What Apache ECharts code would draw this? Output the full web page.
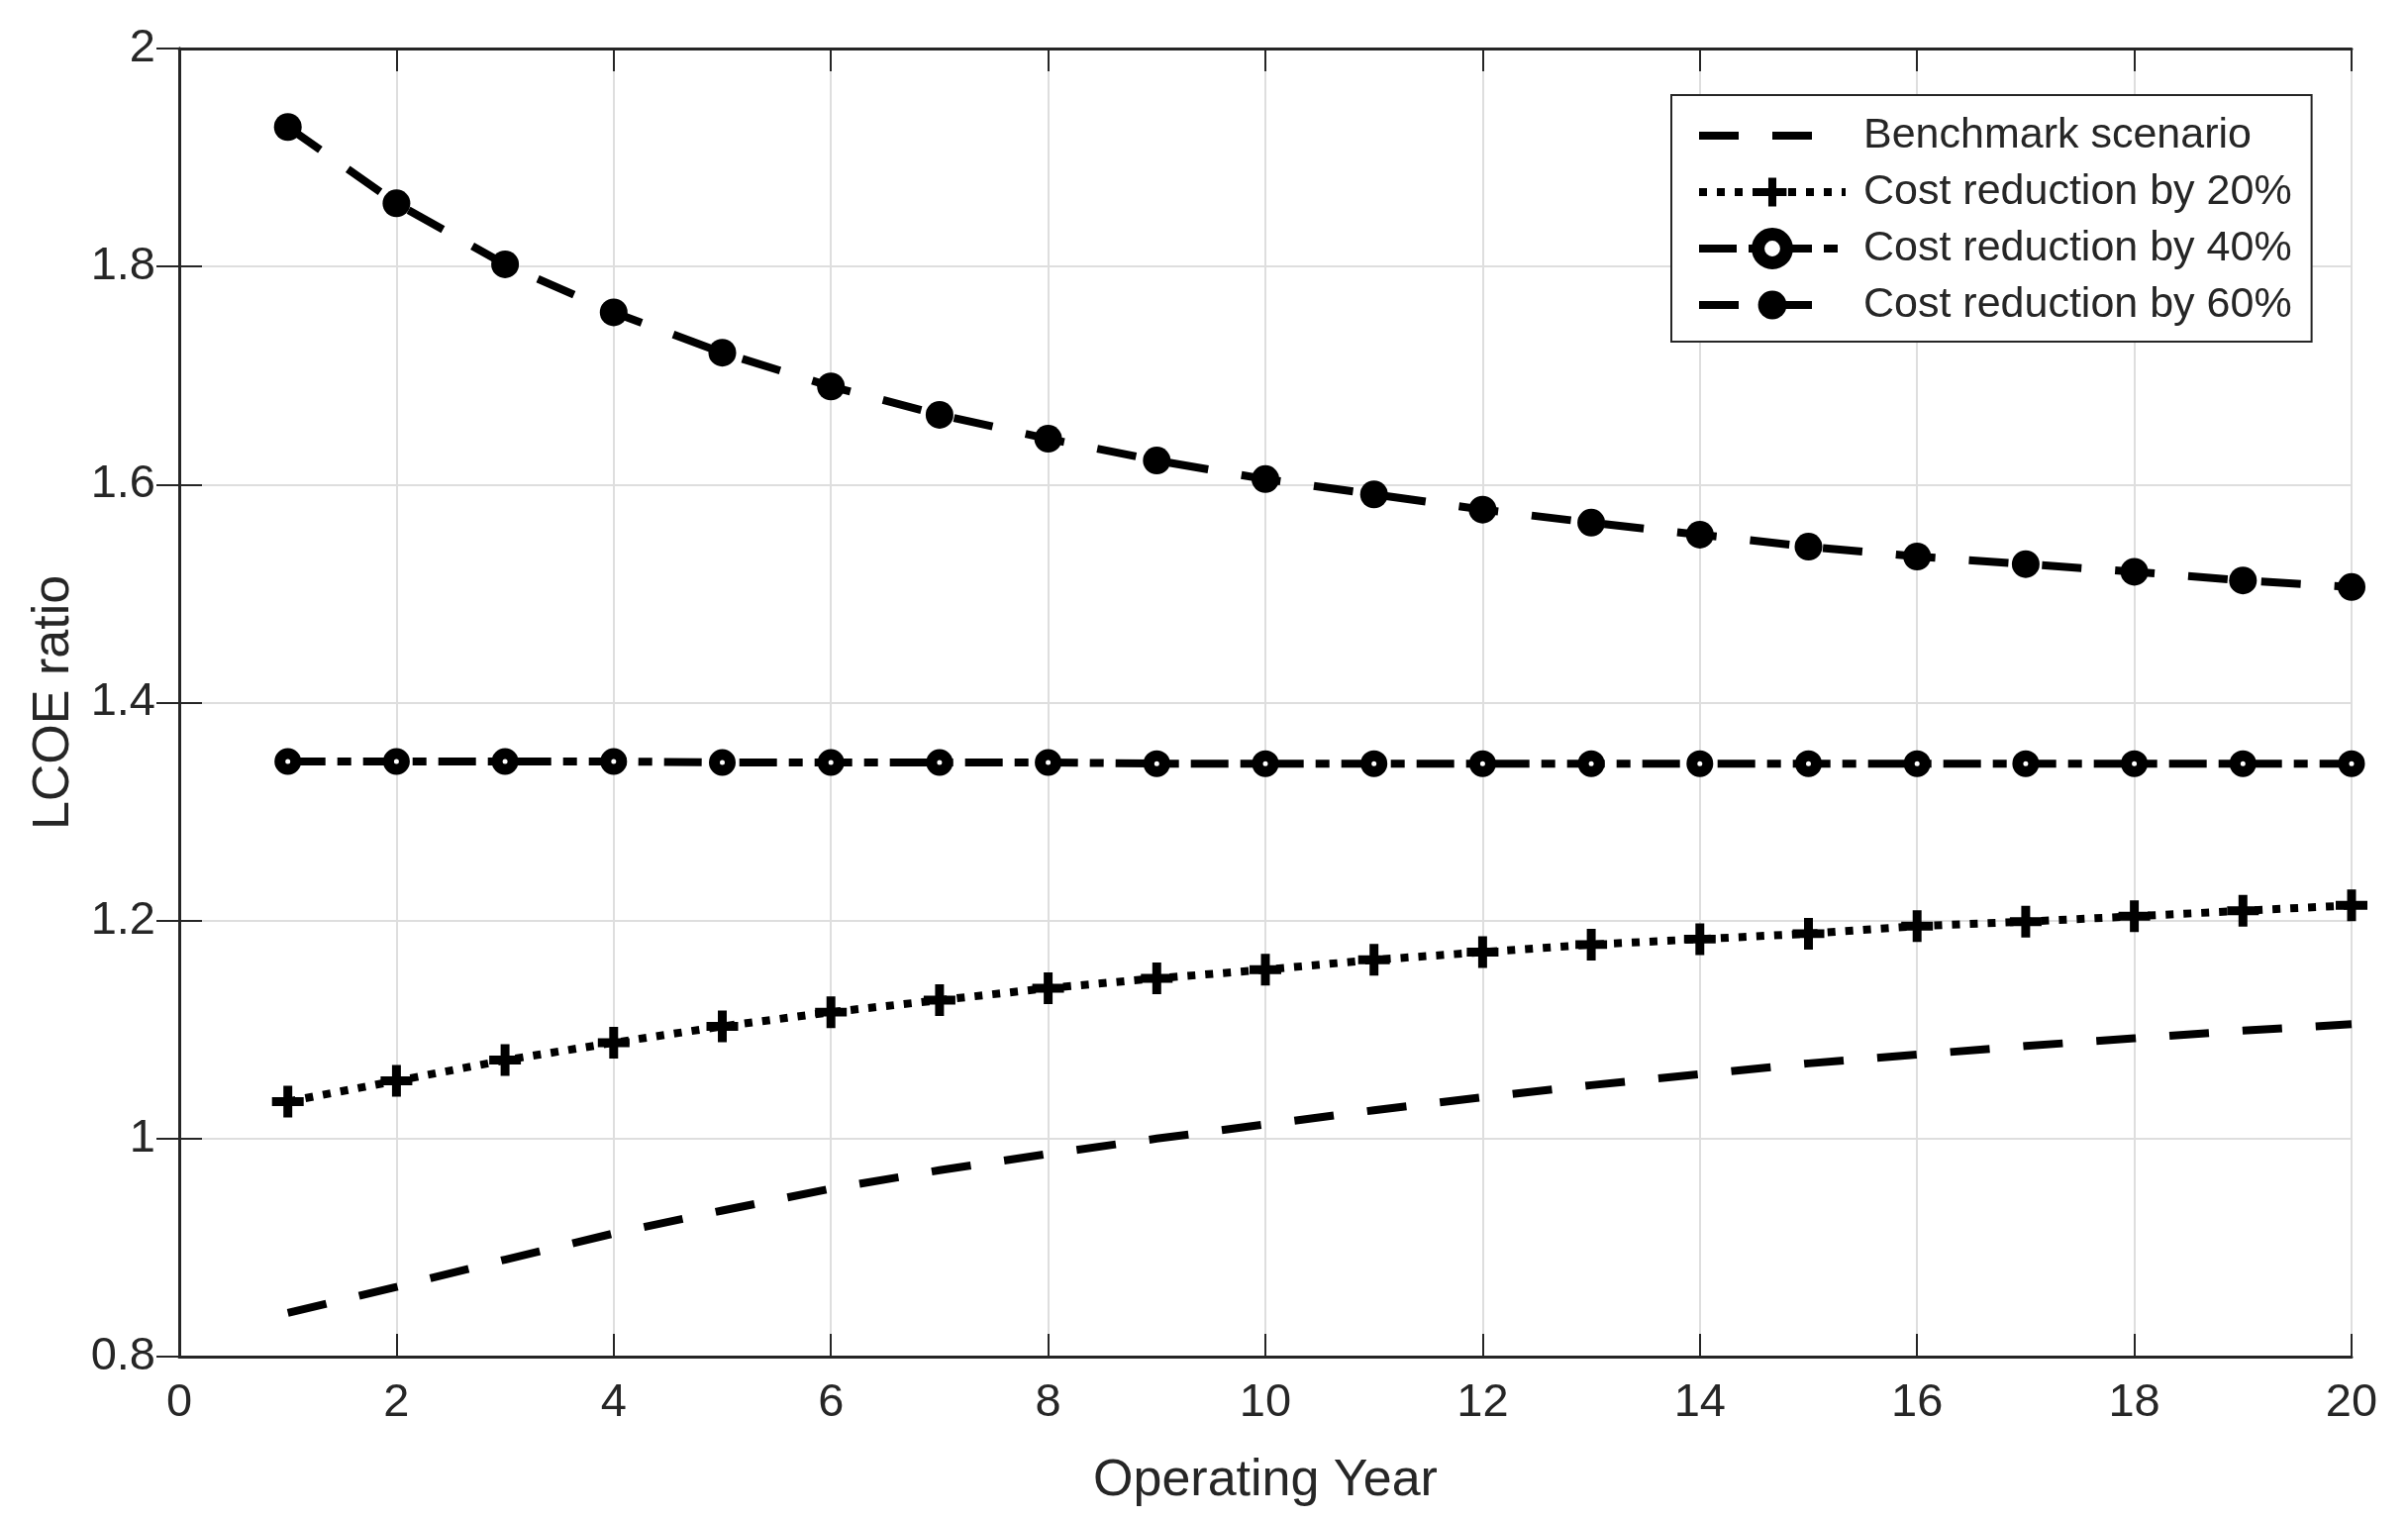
<!DOCTYPE html>
<html>
<head>
<meta charset="utf-8">
<script src="https://cdn.jsdelivr.net/npm/echarts@6/dist/echarts.min.js"></script>
<style>
html,body{margin:0;padding:0;background:#fff;}
#chart{width:2432px;height:1535px;}
</style>
</head>
<body>
<div id="chart"></div>
<script>
const years = [1,2,3,4,5,6,7,8,9,10,11,12,13,14,15,16,17,18,19,20];
const benchmark = [0.840,0.864,0.889,0.913,0.934,0.954,0.971,0.986,1.000,1.013,1.026,1.038,1.049,1.059,1.069,1.077,1.085,1.092,1.099,1.105];
const cut20 = [1.034,1.053,1.072,1.088,1.103,1.116,1.127,1.138,1.147,1.155,1.164,1.171,1.178,1.183,1.188,1.195,1.199,1.204,1.209,1.214];
const cut40 = [1.346,1.346,1.346,1.346,1.345,1.345,1.345,1.345,1.344,1.344,1.344,1.344,1.344,1.344,1.344,1.344,1.344,1.344,1.344,1.344];
const cut60 = [1.928,1.858,1.802,1.758,1.721,1.690,1.664,1.642,1.622,1.605,1.591,1.577,1.565,1.554,1.543,1.534,1.527,1.520,1.512,1.506];
const seriesNames = ['Benchmark scenario','Cost reduction by 20%','Cost reduction by 40%','Cost reduction by 60%'];
const xTitle = 'Operating Year';
const yTitle = 'LCOE ratio';

const pairs = arr => years.map((y, i) => [y, arr[i]]);
const FONT = 'Liberation Sans, Arial, Helvetica, sans-serif';
const TXT = '#262626';
const plusPath = 'path://M3.6,0 H6.4 V3.6 H10 V6.4 H6.4 V10 H3.6 V6.4 H0 V3.6 H3.6 Z';

const chart = echarts.init(document.getElementById('chart'), null, {renderer: 'canvas'});

const frameAxis = {
  axisLine: {show: true, lineStyle: {color: TXT, width: 3}},
  axisTick: {show: true, inside: true, length: 23, lineStyle: {color: TXT, width: 2}},
};

chart.setOption({
  animation: false,
  backgroundColor: '#ffffff',
  grid: {left: 181, right: 57, top: 49, bottom: 165, containLabel: false},
  xAxis: [
    Object.assign({
      type: 'value', min: 0, max: 20, interval: 2, position: 'bottom',
      name: xTitle, nameLocation: 'middle', nameGap: 100,
      nameTextStyle: {fontFamily: FONT, fontSize: 52, color: TXT},
      axisLabel: {fontFamily: FONT, fontSize: 47, color: TXT, margin: 24},
      splitLine: {show: true, lineStyle: {color: '#dedede', width: 2}}
    }, frameAxis),
    Object.assign({
      type: 'value', min: 0, max: 20, interval: 2, position: 'top',
      axisLabel: {show: false}, splitLine: {show: false}
    }, frameAxis)
  ],
  yAxis: [
    Object.assign({
      type: 'value', min: 0.8, max: 2, interval: 0.2, position: 'left',
      name: yTitle, nameLocation: 'middle', nameGap: 97, nameRotate: 90,
      nameTextStyle: {fontFamily: FONT, fontSize: 52, color: TXT},
      axisLabel: {fontFamily: FONT, fontSize: 47, color: TXT, margin: 24,
        formatter: v => String(Math.round(v * 10) / 10)},
      splitLine: {show: true, lineStyle: {color: '#dedede', width: 2}}
    }, frameAxis),
    Object.assign({
      type: 'value', min: 0.8, max: 2, interval: 0.2, position: 'right',
      axisLabel: {show: false}, splitLine: {show: false}
    }, frameAxis)
  ],
  legend: {
    orient: 'vertical', left: 1688, top: 96,
    padding: [16, 20, 12, 24],
    backgroundColor: '#ffffff',
    borderColor: TXT, borderWidth: 2, borderRadius: 0,
    itemWidth: 148, itemHeight: 36, itemGap: 7,
    lineStyle: {width: 8},
    textStyle: {fontFamily: FONT, fontSize: 43, color: TXT, lineHeight: 50, padding: [0, 0, 0, 13]},
    data: [
      {name: seriesNames[0], itemStyle: {opacity: 0}, lineStyle: {width: 8, opacity: 1}},
      seriesNames[1],
      {name: seriesNames[2], itemStyle: {color: '#ffffff', borderColor: '#000', borderWidth: 13}},
      seriesNames[3]
    ]
  },
  series: [
    {
      name: seriesNames[0], type: 'line', data: pairs(benchmark),
      symbol: 'none', z: 3,
      lineStyle: {color: '#000', width: 8, type: [40, 34]},
      itemStyle: {color: '#000'}
    },
    {
      name: seriesNames[1], type: 'line', data: pairs(cut20),
      symbol: plusPath, symbolSize: 32, showAllSymbol: true, z: 4,
      lineStyle: {color: '#000', width: 8, type: [8, 10]},
      itemStyle: {color: '#000', borderWidth: 0}
    },
    {
      name: seriesNames[2], type: 'line', data: pairs(cut40),
      symbol: 'circle', symbolSize: 16, showAllSymbol: true, z: 5,
      lineStyle: {color: '#000', width: 8, type: [38, 12, 14, 12]},
      itemStyle: {color: '#ffffff', borderColor: '#000', borderWidth: 11}
    },
    {
      name: seriesNames[3], type: 'line', data: pairs(cut60),
      symbol: 'circle', symbolSize: 28, showAllSymbol: true, z: 6,
      lineStyle: {color: '#000', width: 8, type: [40, 34]},
      itemStyle: {color: '#000', borderWidth: 0}
    }
  ]
});
</script>
</body>
</html>
